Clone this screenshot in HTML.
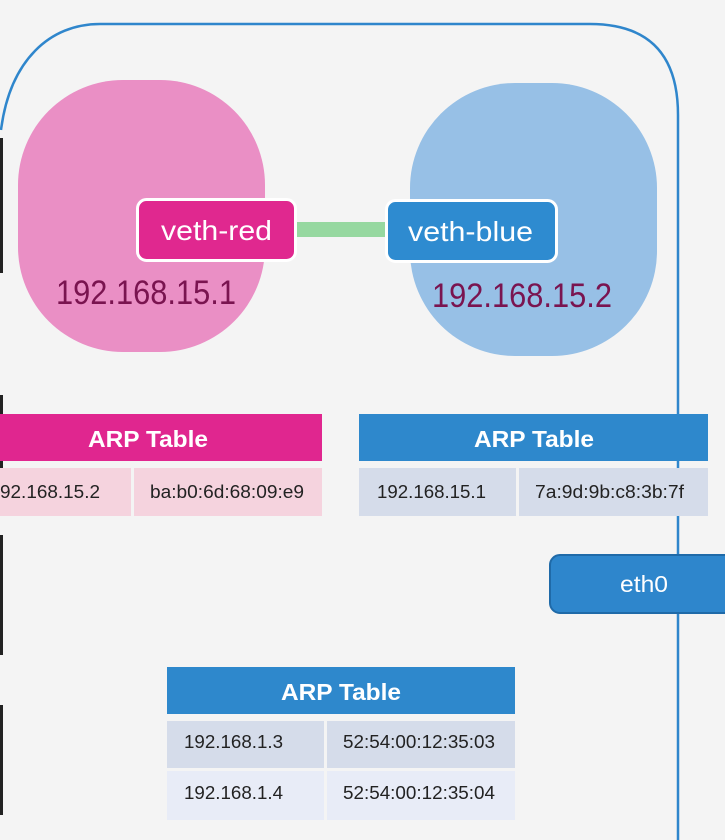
<!DOCTYPE html>
<html><head><meta charset="utf-8"><style>
html,body{margin:0;padding:0;width:725px;height:840px;overflow:hidden;background:#f4f4f4;}
svg{display:block}
text{font-family:"Liberation Sans",sans-serif;}
</style></head><body>
<svg width="725" height="840" viewBox="0 0 725 840" xmlns="http://www.w3.org/2000/svg">
<rect width="725" height="840" fill="#f4f4f4"/>
<rect x="0" y="138" width="3" height="135" fill="#222"/>
<rect x="0" y="395" width="3" height="100" fill="#222"/>
<rect x="0" y="535" width="3" height="120" fill="#222"/>
<rect x="0" y="705" width="3" height="110" fill="#222"/>
<path d="M1,130 C10,60 50,24 100,24 L590,24 Q678,24 678,115 L678,840" fill="none" stroke="#2f86cc" stroke-width="2.5"/>
<rect x="18" y="80" width="247" height="272" rx="105" fill="#ea8fc5"/>
<rect x="410" y="83" width="247" height="273" rx="105" fill="#97c0e6"/>
<rect x="293" y="222" width="96" height="15" fill="#96d8a0"/>
<rect x="137.5" y="199.5" width="158" height="61" rx="9" fill="#e0288f" stroke="#fff" stroke-width="3"/>
<text x="161" y="240" font-size="28" fill="#fff" textLength="111" lengthAdjust="spacingAndGlyphs">veth-red</text>
<rect x="386.5" y="200.5" width="170" height="61" rx="9" fill="#2e8bd0" stroke="#fff" stroke-width="3"/>
<text x="408" y="241" font-size="28" fill="#fff" textLength="125" lengthAdjust="spacingAndGlyphs">veth-blue</text>
<text x="56" y="304" font-size="34" fill="#7a1450" textLength="180" lengthAdjust="spacingAndGlyphs">192.168.15.1</text>
<text x="432" y="307" font-size="34" fill="#7a1450" textLength="180" lengthAdjust="spacingAndGlyphs">192.168.15.2</text>
<rect x="0" y="414" width="322" height="47" fill="#e0268f"/>
<text x="88" y="447" font-size="23" font-weight="bold" fill="#fff" textLength="120" lengthAdjust="spacingAndGlyphs">ARP Table</text>
<rect x="0" y="468" width="131" height="48" fill="#f5d3de"/>
<rect x="134" y="468" width="188" height="48" fill="#f5d3de"/>
<text x="0" y="498" font-size="18" fill="#222" textLength="100" lengthAdjust="spacingAndGlyphs">92.168.15.2</text>
<text x="150" y="498" font-size="18" fill="#222" textLength="154" lengthAdjust="spacingAndGlyphs">ba:b0:6d:68:09:e9</text>
<rect x="359" y="414" width="349" height="47" fill="#2e88cc"/>
<text x="474" y="447" font-size="23" font-weight="bold" fill="#fff" textLength="120" lengthAdjust="spacingAndGlyphs">ARP Table</text>
<rect x="359" y="468" width="157" height="48" fill="#d5dcea"/>
<rect x="519" y="468" width="189" height="48" fill="#d5dcea"/>
<text x="377" y="498" font-size="18" fill="#222" textLength="109" lengthAdjust="spacingAndGlyphs">192.168.15.1</text>
<text x="535" y="498" font-size="18" fill="#222" textLength="149" lengthAdjust="spacingAndGlyphs">7a:9d:9b:c8:3b:7f</text>
<rect x="550" y="555" width="190" height="58" rx="10" fill="#2e86cc" stroke="#1f6aa8" stroke-width="2"/>
<text x="620" y="592" font-size="23" fill="#fff" textLength="48" lengthAdjust="spacingAndGlyphs">eth0</text>
<rect x="167" y="667" width="348" height="47" fill="#2e88cc"/>
<text x="281" y="700" font-size="23" font-weight="bold" fill="#fff" textLength="120" lengthAdjust="spacingAndGlyphs">ARP Table</text>
<rect x="167" y="721" width="157" height="47" fill="#d5dcea"/>
<rect x="327" y="721" width="188" height="47" fill="#d5dcea"/>
<rect x="167" y="771" width="157" height="49" fill="#e8ecf7"/>
<rect x="327" y="771" width="188" height="49" fill="#e8ecf7"/>
<text x="184" y="748" font-size="18" fill="#222" textLength="99" lengthAdjust="spacingAndGlyphs">192.168.1.3</text>
<text x="343" y="748" font-size="18" fill="#222" textLength="152" lengthAdjust="spacingAndGlyphs">52:54:00:12:35:03</text>
<text x="184" y="799" font-size="18" fill="#222" textLength="99" lengthAdjust="spacingAndGlyphs">192.168.1.4</text>
<text x="343" y="799" font-size="18" fill="#222" textLength="152" lengthAdjust="spacingAndGlyphs">52:54:00:12:35:04</text>
</svg>
</body></html>
